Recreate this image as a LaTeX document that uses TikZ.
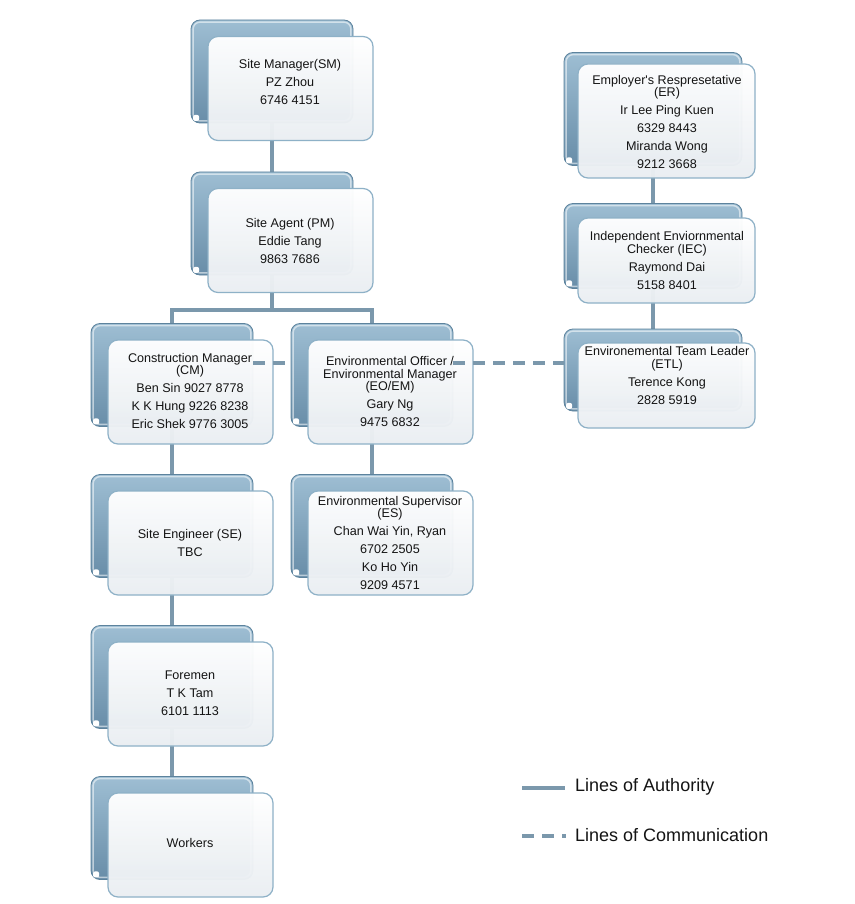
\documentclass[tikz,border=0pt]{standalone}
\usepackage{fontspec}
\setmainfont{Liberation Sans}
\usetikzlibrary{calc}
\pgfdeclarelayer{backdrop}
\pgfdeclarelayer{bg}
\pgfsetlayers{backdrop,bg,main}
\definecolor{conn}{HTML}{7B98AC}
\definecolor{backtop}{HTML}{9EBED3}
\definecolor{backbot}{HTML}{688DA8}
\definecolor{backedge}{HTML}{5D839D}
\definecolor{frontedge}{HTML}{8EB1C7}
\definecolor{frontbot}{HTML}{EAEEF2}
\tikzset{
 backbox/.style={rectangle, rounded corners=9pt, draw=backedge, line width=0.8pt, top color=backtop, bottom color=backbot, inner sep=0pt},
 frontbox/.style={rectangle, rounded corners=10pt, draw=frontedge, line width=1.2pt, top color=white, bottom color=frontbot, fill opacity=0.97, inner sep=0pt},
 boxtext/.style={align=center, font=\fontsize{12.6}{12.5}\selectfont, inner sep=0pt, text=black!92},
 auth/.style={draw=conn, line width=4pt},
 comm/.style={draw=conn, line width=3.3pt, dash pattern=on 12pt off 8pt},
 legtext/.style={anchor=west, font=\fontsize{18}{20}\selectfont, inner sep=0pt, text=black!92},
}
\newcommand{\OrgBox}[9]{%
 \node[backbox, minimum width=#4pt, minimum height=#5pt] (#1b) at (#2,#3) {};
 \draw[white, opacity=0.55, line width=1.5pt, rounded corners=7pt] ([shift={(2.5pt,-2.5pt)}]#1b.north west) rectangle ([shift={(-2.5pt,2.5pt)}]#1b.south east);
 \fill[white, rounded corners=2pt] ([shift={(2.5pt,2.5pt)}]#1b.south west) rectangle ++(6pt,6pt);
 \node[frontbox, minimum width=#8pt, minimum height=#9pt] (#1) at (#6,#7) {};
}
\begin{document}
\begin{tikzpicture}[x=1pt, y=-1pt]
\begin{pgfonlayer}{backdrop}
\fill[white] (0,0) rectangle (854,904);
\end{pgfonlayer}
\useasboundingbox (0,0) rectangle (854,904);

% left tree
\OrgBox{sm}{272}{71.5}{162}{103}{290.5}{88.5}{165}{104}
\OrgBox{sa}{272}{223.5}{162}{103}{290.5}{240.5}{165}{104}
\OrgBox{cm}{172}{375}{162}{103}{190.5}{392}{165}{104}
\OrgBox{eo}{372}{375}{162}{103}{390.5}{392}{165}{104}
\OrgBox{se}{172}{526}{162}{103}{190.5}{543}{165}{104}
\OrgBox{es}{372}{526}{162}{103}{390.5}{543}{165}{104}
\OrgBox{fm}{172}{677}{162}{103}{190.5}{694}{165}{104}
\OrgBox{wk}{172}{828}{162}{103}{190.5}{845}{165}{104}
% right column
\OrgBox{er}{653}{109}{178}{113}{666.5}{121}{177}{114}
\OrgBox{iec}{653}{246}{178}{85}{666.5}{260.5}{177}{85}
\OrgBox{etl}{653}{370}{178}{82}{666.5}{385.5}{177}{85}

% communication line (visible between the solid back panels)
\coordinate (cmd) at ([yshift=12pt]cmb.center);
\draw[comm] (cmd -| cmb.east) -- (cmd -| eob.west) (cmd -| eob.east) -- (cmd -| etlb.west);

% texts
\node[boxtext] (smt) at (290,82) {Site Manager(SM)\\[5.5pt]PZ Zhou\\[5.5pt]6746 4151};
\node[boxtext] (sat) at (290,241) {Site Agent (PM)\\[5.5pt]Eddie Tang\\[5.5pt]9863 7686};
\node[boxtext] (cmt) at (190,391) {Construction Manager\\(CM)\\[5.5pt]Ben Sin 9027 8778\\[5.5pt]K K Hung 9226 8238\\[5.5pt]Eric Shek 9776 3005};
\node[boxtext] (eot) at (390,391.5) {Environmental Officer /\\Environmental Manager\\(EO/EM)\\[5.5pt]Gary Ng\\[5.5pt]9475 6832};
\node[boxtext] (set) at (190,543) {Site Engineer (SE)\\[5.5pt]TBC};
\node[boxtext] (est) at (390,543) {Environmental Supervisor\\(ES)\\[5.5pt]Chan Wai Yin, Ryan\\[5.5pt]6702 2505\\[5.5pt]Ko Ho Yin\\[5.5pt]9209 4571};
\node[boxtext] (fmt) at (190,693) {Foremen\\[5.5pt]T K Tam\\[5.5pt]6101 1113};
\node[boxtext] (wkt) at (190,843) {Workers};
\node[boxtext] (ert) at (667,122) {Employer\textquotesingle s Respresetative\\(ER)\\[5.5pt]Ir Lee Ping Kuen\\[5.5pt]6329 8443\\[5.5pt]Miranda Wong\\[5.5pt]9212 3668};
\node[boxtext] (iect) at (667,260.5) {Independent Enviornmental\\Checker (IEC)\\[5.5pt]Raymond Dai\\[5.5pt]5158 8401};
\node[boxtext] (etlt) at (667,375.5) {Environemental Team Leader\\(ETL)\\[5.5pt]Terence Kong\\[5.5pt]2828 5919};

% legend
\node[legtext] (lauth) at (575,787) {Lines of Authority};
\node[legtext] (lcomm) at (575,835) {Lines of Communication};
\coordinate (la) at (522,788);
\coordinate (lc) at (522,836);
\draw[auth] (la) -- ([xshift=-10pt]la -| lauth.west);
\draw[comm] (lc) -- ([xshift=-9pt]lc -| lcomm.west);

\begin{pgfonlayer}{bg}
 \draw[auth] (smb.center) -- (sab.center);
 \coordinate (split) at (272,310);
 \draw[auth] (sab.center) -- (split);
 \draw[auth] (split) -| (cmb.center);
 \draw[auth] (split) -| (eob.center);
 \draw[auth] (cmb.center) -- (seb.center);
 \draw[auth] (seb.center) -- (fmb.center);
 \draw[auth] (fmb.center) -- (wkb.center);
 \draw[auth] (eob.center) -- (esb.center);
 \draw[auth] (erb.center) -- (iecb.center);
 \draw[auth] (iecb.center) -- (etlb.center);
\end{pgfonlayer}
\end{tikzpicture}
\end{document}
